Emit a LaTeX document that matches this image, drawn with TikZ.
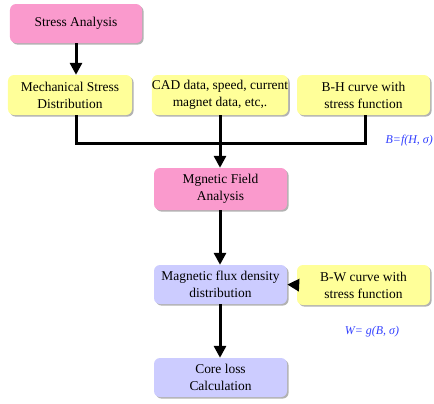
\documentclass[tikz,border=0pt]{standalone}
\usepackage{fontspec}
\setmainfont{Liberation Serif}
\usetikzlibrary{arrows.meta}
\definecolor{pinkbox}{HTML}{FA9ACD}
\definecolor{yellowbox}{HTML}{FFFF99}
\definecolor{lavbox}{HTML}{CCCCFF}
\definecolor{labblue}{HTML}{3340FF}
\tikzset{
  box/.style={rectangle, rounded corners=6bp, inner sep=0pt, align=center,
    font=\fontsize{13.5}{17}\selectfont, text=black,
    preaction={fill=black!30, transform canvas={xshift=1.6bp, yshift=-1.6bp}}},
  pinkb/.style={box, fill=pinkbox},
  yelb/.style={box, fill=yellowbox},
  lavb/.style={box, fill=lavbox},
  conn/.style={line width=3bp, draw=black},
  arr/.style={conn, -{Triangle[length=12bp,width=12bp]}},
  formula/.style={font=\fontsize{12}{14}\selectfont\itshape, text=labblue, inner sep=0pt}
}
\begin{document}
\begin{tikzpicture}[x=1bp,y=-1bp]
\useasboundingbox (0,0) rectangle (434,403);
\node[pinkb, minimum width=132bp, minimum height=39bp] (sa) at (76,23.5) {Stress Analysis};
\node[yelb, minimum width=124bp, minimum height=40bp] (msd) at (70,95) {Mechanical Stress\\Distribution};
\node[yelb, minimum width=135bp, minimum height=40bp] (cad) at (220,95) {CAD data, speed, current\\magnet data, etc,.};
\node[yelb, minimum width=133bp, minimum height=40bp] (bh) at (363.5,95) {B-H curve with\\stress function};
\node[pinkb, minimum width=133bp, minimum height=42bp] (mfa) at (220.5,189) {Mgnetic Field\\Analysis};
\node[lavb, minimum width=133bp, minimum height=39bp] (mfd) at (220.5,284.5) {Magnetic flux density\\distribution};
\node[yelb, minimum width=133bp, minimum height=40bp] (bw) at (363.5,285) {B-W curve with\\stress function};
\node[lavb, minimum width=133bp, minimum height=39bp] (cl) at (220.5,377.5) {Core loss\\Calculation};
\node[formula, anchor=east] (f1) at (433,141) {B=f(H, σ)};
\node[formula] (f2) at (372,332) {W= g(B, σ)};
\coordinate (j) at (220,143);
\draw[arr] (sa.south -| 76,0) -- (msd.north -| 76,0);
\draw[conn] (msd.south -| 76,0) |- (j) -| (bh.south -| 365,0);
\draw[conn] (cad.south) -- (j);
\draw[arr] (j) -- (mfa.north -| j);
\draw[arr] (mfa.south -| j) -- (mfd.north -| j);
\draw[arr] (bw.west) -- (mfd.east);
\draw[arr] (mfd.south -| j) -- (cl.north -| j);
\end{tikzpicture}
\end{document}
